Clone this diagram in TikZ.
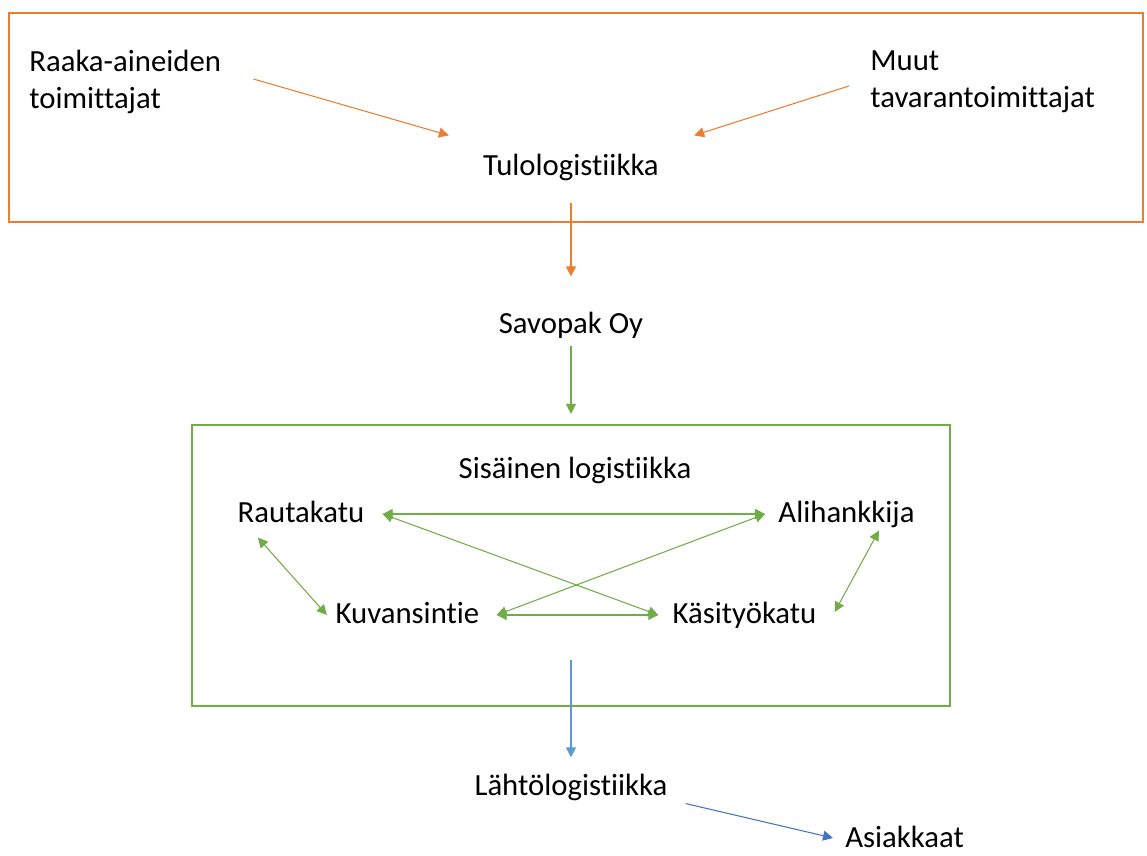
\documentclass[tikz,border=0pt]{standalone}
\usepackage{fontspec}
\setmainfont{Carlito}[Ligatures=NoCommon]
\usepackage{xcolor}
\usepackage{tikz}
\usetikzlibrary{arrows.meta, positioning}

\definecolor{inorange}{HTML}{ED7D31}
\definecolor{ingreen}{HTML}{70AD47}
\definecolor{outblue}{HTML}{5B9BD5}
\definecolor{custblue}{HTML}{4472C4}

\begin{document}
\begin{tikzpicture}[
    font=\fontsize{17.5}{21}\selectfont,
    lbl/.style={inner sep=0pt, text height=0.45cm, text depth=0.12cm},
    twoline/.style={inner sep=0pt, align=left, anchor=west},
    boxframe/.style={draw, line width=1.2pt, inner sep=0pt},
    flowarrow/.style={-{Triangle[length=2mm,width=2mm]}, line width=0.6pt},
    twoway/.style={{Triangle[length=2mm,width=2mm]}-{Triangle[length=2mm,width=2mm]}, line width=0.6pt, ingreen}
]
    \useasboundingbox (0,0) rectangle (22.94,17.12);

    % Inbound logistics
    \node[boxframe, draw=inorange, minimum width=22.68cm, minimum height=4.18cm] (tulobox) at (11.52,14.77) {};
    \node[twoline] (raaka) at (0.58,15.48) {Raaka-aineiden\\toimittajat};
    \node[twoline] (muut) at (17.4,15.48) {Muut\\tavarantoimittajat};
    \node[lbl] (tulo) at (11.42,13.78) {Tulologistiikka};
    \draw[flowarrow, inorange] ([xshift=0.64cm,yshift=0.06cm]raaka.east) -- ([xshift=-0.68cm,yshift=0.34cm]tulo.north west);
    \draw[flowarrow, inorange] ([xshift=-0.42cm,yshift=-0.08cm]muut.west) -- ([xshift=0.7cm,yshift=0.34cm]tulo.north east);

    % Company
    \node[lbl] (savo) at (11.42,10.62) {Savopak Oy};
    \draw[flowarrow, inorange, shorten <=0.42cm, shorten >=0.68cm] (tulo) -- (savo);

    % Internal logistics
    \node[boxframe, draw=ingreen, minimum width=15.16cm, minimum height=5.62cm] (sisbox) at (11.42,5.81) {};
    \draw[flowarrow, ingreen, shorten <=0.12cm, shorten >=0.2cm] (savo) -- (sisbox);
    \node[lbl] (sis) at (11.5,7.72) {Sisäinen logistiikka};
    \node[lbl] (rauta) at (6.02,6.84) {Rautakatu};
    \node[lbl] (ali) at (16.93,6.84) {Alihankkija};
    \node[lbl] (kuva) at (8.15,4.82) {Kuvansintie};
    \node[lbl] (kasi) at (14.89,4.82) {Käsityökatu};

    \draw[twoway, shorten <=0.36cm, shorten >=0.26cm] (rauta) -- (ali);
    \draw[twoway] ([xshift=0.36cm]rauta.east) -- ([xshift=-0.28cm]kasi.west);
    \draw[twoway, shorten <=0.34cm, shorten >=0.28cm] (kuva) -- (kasi);
    \draw[twoway] ([xshift=0.34cm]kuva.east) -- ([xshift=-0.26cm]ali.west);
    \draw[twoway] ([xshift=0.41cm,yshift=-0.18cm]rauta.south west) -- ([xshift=-0.17cm]kuva.west);
    \draw[twoway] ([xshift=0.36cm,yshift=0.06cm]kasi.east) -- ([xshift=-0.72cm,yshift=-0.04cm]ali.south east);

    % Outbound logistics
    \node[lbl] (lahto) at (11.42,1.38) {Lähtölogistiikka};
    \node[lbl, anchor=west] (asiak) at (16.9,0.34) {Asiakkaat};
    \draw[flowarrow, outblue, shorten >=0.3cm] ([yshift=0.94cm]sisbox.south) -- (lahto);
    \draw[flowarrow, custblue] ([xshift=0.36cm,yshift=-0.04cm]lahto.south east) -- ([xshift=-0.24cm,yshift=0.02cm]asiak.west);
\end{tikzpicture}
\end{document}
